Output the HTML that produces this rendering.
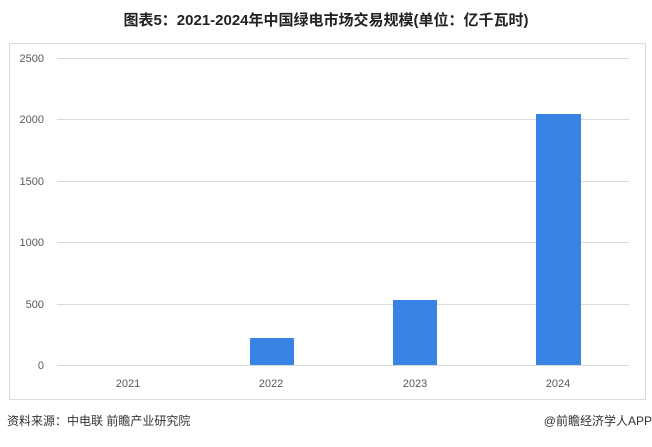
<!DOCTYPE html>
<html><head><meta charset="utf-8"><style>
body{margin:0;width:652px;height:442px;background:#fff;overflow:hidden;font-family:"Liberation Sans","Noto Sans CJK SC",sans-serif;}
</style></head><body>
<svg width="652" height="442" xmlns="http://www.w3.org/2000/svg" style="font-family:'Liberation Sans','Noto Sans CJK SC',sans-serif">
<text x="326" y="25" text-anchor="middle" font-size="15" font-weight="bold" fill="#222">图表5：2021-2024年中国绿电市场交易规模(单位：亿千瓦时)</text>
<rect x="9.5" y="43.5" width="636" height="356" fill="#fff" stroke="#d9d9d9"/>
<g stroke="#d9d9d9" stroke-width="1">
<line x1="57" y1="58.5" x2="629" y2="58.5"/>
<line x1="57" y1="119.5" x2="629" y2="119.5"/>
<line x1="57" y1="181.5" x2="629" y2="181.5"/>
<line x1="57" y1="242.5" x2="629" y2="242.5"/>
<line x1="57" y1="304.5" x2="629" y2="304.5"/>
<line x1="57" y1="365.5" x2="629" y2="365.5"/>
</g>
<g font-size="11" fill="#595959" text-anchor="end">
<text x="44" y="62">2500</text><text x="44" y="123">2000</text><text x="44" y="185">1500</text>
<text x="44" y="246">1000</text><text x="44" y="308">500</text><text x="44" y="369">0</text>
</g>
<g fill="#3784e4">
<rect x="250" y="338" width="44" height="27"/>
<rect x="393" y="300" width="44" height="65"/>
<rect x="536" y="114" width="45" height="251"/>
</g>
<g font-size="11" fill="#595959" text-anchor="middle">
<text x="128" y="387">2021</text><text x="271" y="387">2022</text><text x="415" y="387">2023</text><text x="558" y="387">2024</text>
</g>
<text x="7" y="425" font-size="12" fill="#333">资料来源：中电联 前瞻产业研究院</text>
<text x="652" y="425" font-size="12" fill="#333" text-anchor="end">@前瞻经济学人APP</text>
</svg>
</body></html>
